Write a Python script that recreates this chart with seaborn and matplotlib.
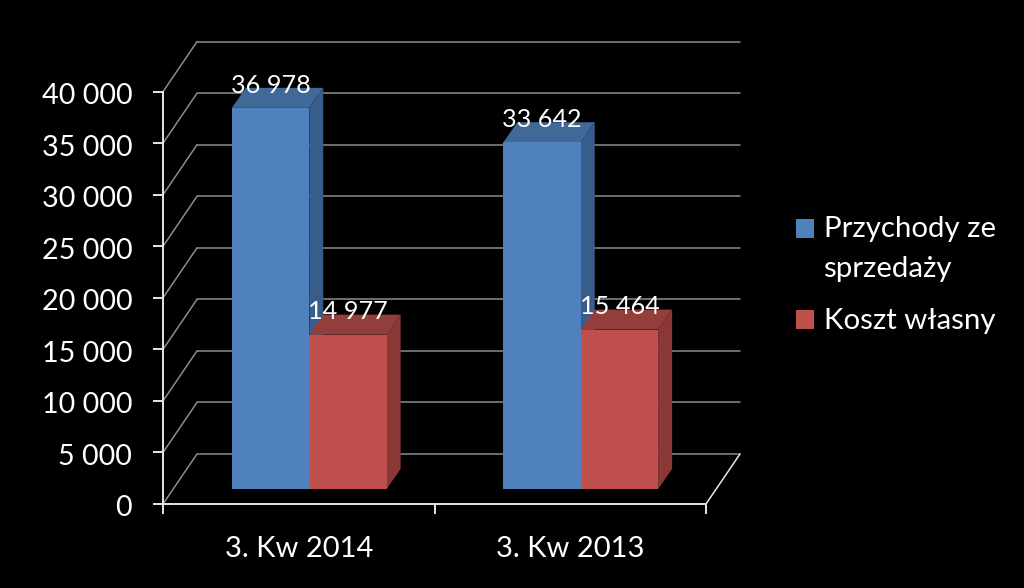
"""Pseudo 3D grouped bars, revenue vs cost of sales."""
import pandas as pd
import seaborn as sns
import matplotlib.pyplot as plt
from matplotlib.patches import Polygon, Rectangle
from matplotlib.transforms import Affine2D

# Data
QUARTERS = ["3. Kw 2014", "3. Kw 2013"]
REVENUE = [36978, 33642]
COST = [14977, 15464]
REVENUE_LABELS = ["36 978", "33 642"]
COST_LABELS = ["14 977", "15 464"]
Y_TICKS = [0, 5000, 10000, 15000, 20000, 25000, 30000, 35000, 40000]
Y_LABELS = ["0", "5 000", "10 000", "15 000", "20 000", "25 000", "30 000", "35 000", "40 000"]
SERIES = ["Przychody ze\nsprzedaży", "Koszt własny"]

data = pd.DataFrame(
    {
        "quarter": QUARTERS * 2,
        "series": [SERIES[0]] * 2 + [SERIES[1]] * 2,
        "value": REVENUE + COST,
    }
)

# Colours of the front, top and side faces
FRONT = ["#4F81BD", "#C0504D"]
TOP = ["#406997", "#933E3B"]
SIDE = ["#385D8A", "#8A3836"]
GRID = "#8C8C8C"
AXIS = "#E6E6E6"

W, H = 1024, 588
LEFT, RIGHT, TOP_PX, BOTTOM_PX = 163, 706, 91.7, 504

sns.set_theme(style="ticks", rc={"figure.facecolor": "black", "axes.facecolor": "none"})
plt.rcParams["font.family"] = ["Lato", "DejaVu Sans"]

fig = plt.figure(figsize=(W / 100, H / 100), dpi=100)
ax = fig.add_axes(
    [LEFT / W, 1 - BOTTOM_PX / H, (RIGHT - LEFT) / W, (BOTTOM_PX - TOP_PX) / H]
)
sns.barplot(
    data, x="quarter", y="value", hue="series", hue_order=SERIES, palette=FRONT,
    width=0.57, saturation=1, legend=False, ax=ax,
)
ax.set_xlim(-0.5, 1.5)
ax.set_ylim(0, 40000)

# Pixel to data scale for the depth offsets
PX_X = 2 / (RIGHT - LEFT)
PX_Y = 40000 / (BOTTOM_PX - TOP_PX)
WALL_X, WALL_Y = 34 * PX_X, 50 * PX_Y
BAR_X, BAR_Y = 10.5 * PX_X, 15 * PX_Y
FACE_X, FACE_Y = 14 * PX_X, 20 * PX_Y

# Back wall and side wall
for tick in Y_TICKS:
    ax.plot([-0.5 + WALL_X, 1.5 + WALL_X], [tick + WALL_Y] * 2, color=GRID, lw=1.1, clip_on=False, zorder=1)
    ax.plot([-0.5, -0.5 + WALL_X], [tick, tick + WALL_Y], color=GRID, lw=1.1, clip_on=False, zorder=1)
ax.plot([1.5, 1.5 + WALL_X], [0, WALL_Y], color=AXIS, lw=1.1, clip_on=False, zorder=1)

# Shift bars off the front plane and add their depth faces
bars = list(ax.patches)
for i, bar in enumerate(bars):
    color_idx = i // 2
    x0 = bar.get_x() + BAR_X
    x1 = x0 + bar.get_width()
    top = BAR_Y + bar.get_height()
    bar.set_x(x0)
    bar.set_y(BAR_Y)
    bar.set_clip_on(False)
    bar.set_linewidth(0)
    bar.set_zorder(3 + color_idx * 2 + 0.5)
    ax.add_patch(
        Polygon(
            [(x0, top), (x0 + FACE_X, top + FACE_Y), (x1 + FACE_X, top + FACE_Y), (x1, top)],
            facecolor=TOP[color_idx], lw=0, clip_on=False, zorder=3 + color_idx * 2,
        )
    )
    ax.add_patch(
        Polygon(
            [(x1, BAR_Y), (x1 + FACE_X, BAR_Y + FACE_Y), (x1 + FACE_X, top + FACE_Y), (x1, top)],
            facecolor=SIDE[color_idx], lw=0, clip_on=False, zorder=3 + color_idx * 2,
        )
    )

# Value labels
values = REVENUE + COST
labels = REVENUE_LABELS + COST_LABELS
for bar, value, label in zip(bars, values, labels):
    ax.annotate(
        label,
        (bar.get_x() + bar.get_width() / 2, bar.get_y() + value),
        xytext=(0, 11),
        textcoords="offset points",
        ha="center",
        va="baseline",
        color="white",
        fontsize=18.2,
        annotation_clip=False,
        zorder=10,
    )

# Axes
sns.despine(ax=ax)
for side in ["left", "bottom"]:
    ax.spines[side].set_color(AXIS)
    ax.spines[side].set_linewidth(1.4)
    ax.spines[side].set_zorder(2)
ax.set_xlabel("")
ax.set_ylabel("")
ax.set_yticks(Y_TICKS, Y_LABELS)
ax.set_xticks([0, 1], QUARTERS)
ax.set_xticks([-0.5, 0.5, 1.5], minor=True)
ax.tick_params(axis="y", colors="white", labelsize=20.7, length=7.2, width=1.4, pad=15, color=AXIS)
ax.tick_params(axis="x", which="major", colors="white", labelsize=21, length=0, pad=23)
ax.tick_params(axis="x", which="minor", length=7.2, width=1.4, color=AXIS)
for lbl in ax.get_yticklabels():
    lbl.set_transform(lbl.get_transform() + Affine2D().translate(0, -2))

# Legend
for name, color, box_top, text_top in zip(SERIES, FRONT, [219, 310], [216.5, 307.5]):
    fig.add_artist(
        Rectangle((796 / W, 1 - (box_top + 19) / H), 18 / W, 19 / H, facecolor=color, lw=0,
                  transform=fig.transFigure)
    )
    fig.text(823.5 / W, 1 - text_top / H, name, color="white", fontsize=21.2, va="top", ha="left", linespacing=1.62)

plt.savefig("out.png", dpi=100, facecolor="black")
